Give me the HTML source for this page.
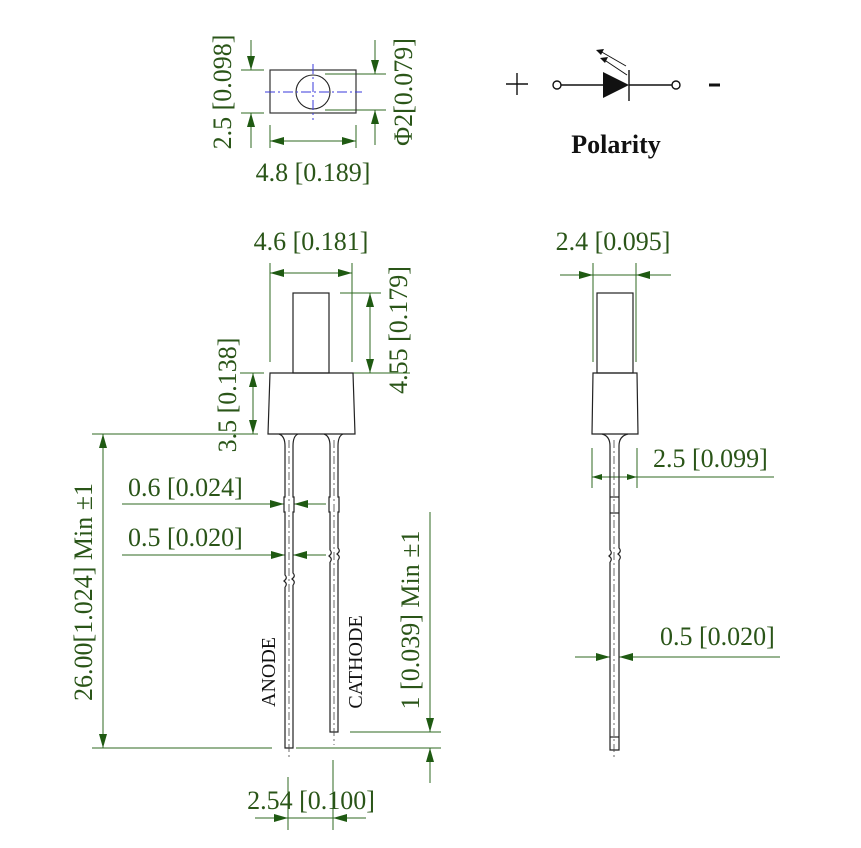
<!DOCTYPE html>
<html><head><meta charset="utf-8"><style>
html,body{margin:0;padding:0;background:#fff;}
svg{display:block;}
text{font-family:"Liberation Serif",serif;fill:#2a5518;font-size:26px;}
</style></head><body>
<svg width="861" height="848" viewBox="0 0 861 848" xmlns="http://www.w3.org/2000/svg">
<defs>
<marker id="a" viewBox="0 0 14 8" refX="14" refY="4" markerWidth="14" markerHeight="8" markerUnits="userSpaceOnUse" orient="auto"><path d="M0,0 L14,4 L0,8 Z" fill="#1f5a12"/></marker>
<marker id="s" viewBox="0 0 10 6" refX="10" refY="3" markerWidth="10" markerHeight="6" markerUnits="userSpaceOnUse" orient="auto"><path d="M0,0 L10,3 L0,6 Z" fill="#1f5a12"/></marker>
</defs>
<g stroke="#2f6a22" stroke-width="1" fill="none">
<line x1="241" y1="70" x2="264" y2="70"/><line x1="241" y1="113" x2="264" y2="113"/>
<line x1="251" y1="40" x2="251" y2="70" marker-end="url(#a)"/>
<line x1="251" y1="148" x2="251" y2="113" marker-end="url(#a)"/>
<line x1="325" y1="74" x2="386" y2="74"/><line x1="325" y1="110" x2="386" y2="110"/>
<line x1="375" y1="40" x2="375" y2="74" marker-end="url(#a)"/>
<line x1="375" y1="145" x2="375" y2="110" marker-end="url(#a)"/>
<line x1="270" y1="125" x2="270" y2="148"/><line x1="356" y1="125" x2="356" y2="148"/>
<line x1="313" y1="141" x2="270" y2="141" marker-end="url(#a)"/>
<line x1="313" y1="141" x2="356" y2="141" marker-end="url(#a)"/>
<line x1="270" y1="263" x2="270" y2="362"/><line x1="352" y1="263" x2="352" y2="362"/>
<line x1="311" y1="273" x2="270" y2="273" marker-end="url(#a)"/>
<line x1="311" y1="273" x2="352" y2="273" marker-end="url(#a)"/>
<line x1="340" y1="293" x2="381" y2="293"/><line x1="353" y1="373" x2="410" y2="373"/>
<line x1="370" y1="333" x2="370" y2="293" marker-end="url(#a)"/>
<line x1="370" y1="333" x2="370" y2="373" marker-end="url(#a)"/>
<line x1="240" y1="373" x2="264" y2="373"/>
<line x1="253" y1="403" x2="253" y2="373" marker-end="url(#a)"/>
<line x1="253" y1="403" x2="253" y2="434" marker-end="url(#a)"/>
<line x1="92" y1="434" x2="258" y2="434"/>
<line x1="92" y1="748" x2="272" y2="748"/><line x1="296" y1="748" x2="326" y2="748"/>
<line x1="103" y1="590" x2="103" y2="434" marker-end="url(#a)"/>
<line x1="103" y1="590" x2="103" y2="748" marker-end="url(#a)"/>
<line x1="122" y1="504" x2="284" y2="504" marker-end="url(#a)"/>
<line x1="312" y1="504" x2="294" y2="504" marker-end="url(#a)"/>
<line x1="312" y1="504" x2="326" y2="504"/>
<line x1="122" y1="555" x2="285" y2="555" marker-end="url(#a)"/>
<line x1="312" y1="555" x2="293" y2="555" marker-end="url(#a)"/>
<line x1="312" y1="555" x2="326" y2="555"/>
<line x1="350" y1="732" x2="441" y2="732"/><line x1="305" y1="748" x2="441" y2="748"/>
<line x1="430" y1="512" x2="430" y2="732" marker-end="url(#a)"/>
<line x1="430" y1="783" x2="430" y2="748" marker-end="url(#a)"/>
<line x1="288" y1="777" x2="288" y2="830"/><line x1="333" y1="760" x2="333" y2="830"/>
<line x1="255" y1="818" x2="288" y2="818" marker-end="url(#a)"/>
<line x1="366" y1="818" x2="333" y2="818" marker-end="url(#a)"/>
<line x1="288" y1="818" x2="333" y2="818"/>
<line x1="593" y1="263" x2="593" y2="362"/><line x1="636" y1="263" x2="636" y2="362"/>
<line x1="560" y1="275" x2="593" y2="275" marker-end="url(#a)"/>
<line x1="671" y1="275" x2="636" y2="275" marker-end="url(#a)"/>
<line x1="593" y1="275" x2="636" y2="275"/>
<line x1="592" y1="448" x2="592" y2="488"/><line x1="637" y1="448" x2="637" y2="488"/>
<line x1="614" y1="477" x2="592" y2="477" marker-end="url(#s)"/>
<line x1="614" y1="477" x2="637" y2="477" marker-end="url(#s)"/>
<line x1="637" y1="477" x2="774" y2="477"/>
<line x1="575" y1="657" x2="610" y2="657" marker-end="url(#a)"/>
<line x1="780" y1="657" x2="619" y2="657" marker-end="url(#a)"/>
</g>
<rect x="270" y="70" width="86" height="43" fill="none" stroke="#333" stroke-width="1.2"/>
<circle cx="313" cy="92" r="17" fill="none" stroke="#222" stroke-width="1.1"/>
<g stroke="#3a3adb" stroke-width="1" stroke-dasharray="10,3,2,3"><line x1="265" y1="92" x2="362" y2="92"/><line x1="313" y1="64" x2="313" y2="120"/></g>
<g fill="none" stroke="#222" stroke-width="1.2">
<rect x="293" y="293" width="36" height="80"/>
<path d="M270,373 L353,373 L355,434 L268,434 Z"/>
<path d="M279,434 Q285,436 285,446 L285,497 L284,497 L284,512 L285,512 L285,575 q3,3 -1,6 q4,3 1,6"/>
<path d="M298,434 Q293,436 293,446 L293,497 L294,497 L294,512 L293,512 L293,573 q3,3 -1,6 q4,3 1,6"/>
<path d="M285,587 L285,748 L293,748 L293,585"/>
<path d="M324,434 Q330,436 330,446 L330,497 L329,497 L329,512 L330,512 L330,550 q3,3 -1,6 q4,3 1,6"/>
<path d="M343,434 Q338,436 338,446 L338,497 L339,497 L339,512 L338,512 L338,548 q3,3 -1,6 q4,3 1,6"/>
<path d="M330,562 L330,732 L338,732 L338,560"/>
<rect x="597" y="293" width="36" height="80"/>
<path d="M593,373 L637,373 L638,434 L592,434 Z"/>
<path d="M602,434 Q610,436 610,446 L610,550 q3,3 -1,6 q4,3 1,6"/>
<path d="M628,434 Q619,436 619,446 L619,548 q3,3 -1,6 q4,3 1,6"/>
<path d="M610,562 L610,750 L619,750 L619,560"/>
<line x1="610" y1="497" x2="619" y2="497"/><line x1="610" y1="513" x2="619" y2="513"/>
<line x1="610" y1="737" x2="619" y2="737"/>
</g>
<g stroke="#444" stroke-width="0.8" stroke-dasharray="8,3,2,3">
<line x1="289" y1="440" x2="289" y2="760"/><line x1="334" y1="440" x2="334" y2="745"/>
<line x1="614" y1="440" x2="614" y2="758"/>
</g>
<g stroke="#111" stroke-width="1.4" fill="none">
<line x1="506" y1="84" x2="528" y2="84"/><line x1="517" y1="73" x2="517" y2="95"/>
<circle cx="557" cy="85" r="4"/><line x1="561" y1="85" x2="603" y2="85"/>
<line x1="629" y1="70" x2="629" y2="101"/><line x1="629" y1="85" x2="672" y2="85"/>
<circle cx="676" cy="85" r="4"/>
<line x1="709" y1="85" x2="720" y2="85" stroke-width="3"/>
<line x1="626" y1="66" x2="600" y2="51" stroke-width="1"/><line x1="627" y1="75" x2="603" y2="59" stroke-width="1"/>
</g>
<path d="M603,72 L629,85 L603,98 Z" fill="#111"/>
<path d="M596,50 L604,49 L601,55 Z" fill="#111"/><path d="M600,58 L608,57 L605,63 Z" fill="#111"/>
<text x="616" y="153" text-anchor="middle" style="font-weight:bold;fill:#111;font-size:26px">Polarity</text>
<text x="313" y="181" text-anchor="middle">4.8 [0.189]</text>
<text transform="translate(231,92) rotate(-90)" text-anchor="middle">2.5 [0.098]</text>
<text transform="translate(412,92) rotate(-90)" text-anchor="middle">&#x3A6;2[0.079]</text>
<text x="311" y="250" text-anchor="middle">4.6 [0.181]</text>
<text x="613" y="250" text-anchor="middle">2.4 [0.095]</text>
<text transform="translate(407,330) rotate(-90)" text-anchor="middle">4.55 [0.179]</text>
<text transform="translate(236,395) rotate(-90)" text-anchor="middle">3.5 [0.138]</text>
<text transform="translate(92,592) rotate(-90)" text-anchor="middle">26.00[1.024] Min ±1</text>
<text x="128" y="496">0.6 [0.024]</text>
<text x="128" y="546">0.5 [0.020]</text>
<text transform="translate(419,620) rotate(-90)" text-anchor="middle">1 [0.039] Min ±1</text>
<text x="311" y="809" text-anchor="middle">2.54 [0.100]</text>
<text x="653" y="467">2.5 [0.099]</text>
<text x="660" y="645">0.5 [0.020]</text>
<text transform="translate(275,672) rotate(-90)" text-anchor="middle" style="fill:#111;font-size:20px">ANODE</text>
<text transform="translate(362,662) rotate(-90)" text-anchor="middle" style="fill:#111;font-size:20px">CATHODE</text>
</svg>
</body></html>
